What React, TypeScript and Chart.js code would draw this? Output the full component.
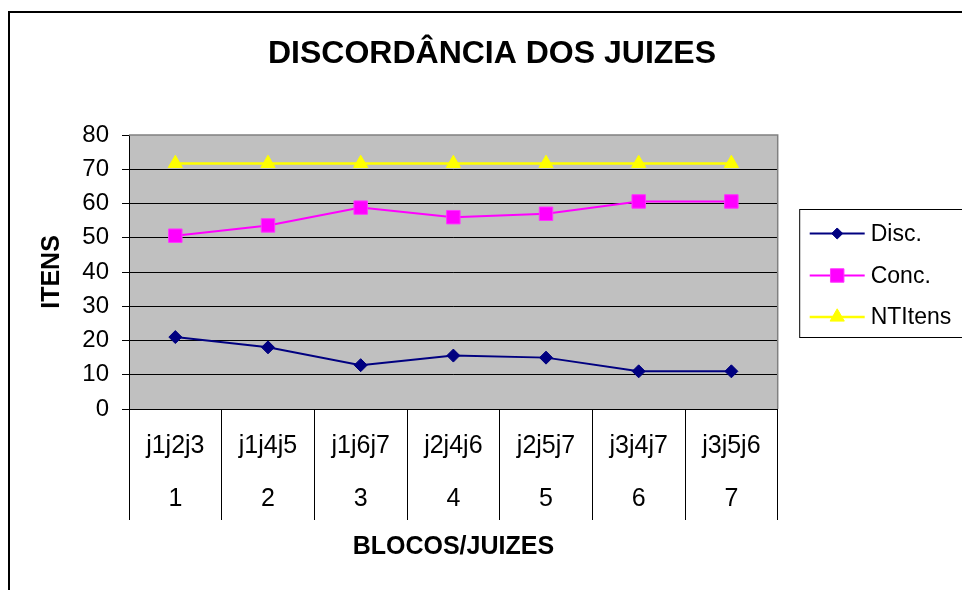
import React, { useEffect, useRef } from 'react';
import { Chart, registerables } from 'chart.js';
import { drawPoint } from 'chart.js/helpers';

Chart.register(...registerables);

const chartTitle = 'DISCORDÂNCIA DOS JUIZES';
const xTitle = 'BLOCOS/JUIZES';
const yTitle = 'ITENS';
const judges = ['j1j2j3', 'j1j4j5', 'j1j6j7', 'j2j4j6', 'j2j5j7', 'j3j4j7', 'j3j5j6'];
const blocks = ['1', '2', '3', '4', '5', '6', '7'];
const disc = [21, 18, 12.8, 15.6, 15, 11, 11];
const conc = [50.6, 53.6, 58.8, 56, 57, 60.6, 60.6];
const ntItens = [71.7, 71.7, 71.7, 71.7, 71.7, 71.7, 71.7];
const seriesNames = ['Disc.', 'Conc.', 'NTItens'];
const yMin = 0;
const yMax = 80;
const yStep = 10;

const FONT = "'Liberation Sans', Arial, sans-serif";

const framePlugin = {
  id: 'frame',
  beforeDraw(chart: any) {
    const { ctx, chartArea } = chart;
    ctx.save();
    ctx.fillStyle = '#ffffff';
    ctx.fillRect(0, 0, chart.width, chart.height);
    ctx.strokeStyle = '#000000';
    ctx.lineWidth = 2;
    ctx.strokeRect(9, 12, chart.width + 50, chart.height + 50);
    ctx.fillStyle = '#C0C0C0';
    ctx.fillRect(chartArea.left, chartArea.top, chartArea.right - chartArea.left, chartArea.bottom - chartArea.top);
    ctx.restore();
  },
  beforeDatasetsDraw(chart: any) {
    const { ctx, chartArea } = chart;
    ctx.save();
    ctx.strokeStyle = '#808080';
    ctx.lineWidth = 1.5;
    ctx.beginPath();
    ctx.moveTo(chartArea.left, chartArea.top);
    ctx.lineTo(chartArea.right, chartArea.top);
    ctx.lineTo(chartArea.right, chartArea.bottom);
    ctx.stroke();
    ctx.restore();
  },
};

const legendPlugin = {
  id: 'excelLegend',
  afterDraw(chart: any) {
    const { ctx, chartArea } = chart;
    const left = chartArea.right + 22;
    const top = 209.5;
    ctx.save();
    ctx.strokeStyle = '#000000';
    ctx.lineWidth = 1;
    ctx.strokeRect(left, top, 300, 128);
    const rows = [233.5, 275.5, 317];
    chart.data.datasets.forEach((ds: any, i: number) => {
      const y = rows[i];
      const x0 = left + 10;
      const x1 = left + 65;
      ctx.strokeStyle = ds.borderColor;
      ctx.lineWidth = ds.borderWidth;
      ctx.beginPath();
      ctx.moveTo(x0, y);
      ctx.lineTo(x1, y);
      ctx.stroke();
      ctx.fillStyle = ds.pointBackgroundColor;
      ctx.strokeStyle = ds.pointBorderColor;
      ctx.lineWidth = 1;
      const r = ds.pointStyle === 'rectRot' ? ds.pointRadius * 0.85 : ds.pointRadius;
      drawPoint(ctx, { pointStyle: ds.pointStyle, radius: r, rotation: 0, borderWidth: 1 }, (x0 + x1) / 2, y);
      ctx.fillStyle = '#000000';
      ctx.font = `23px ${FONT}`;
      ctx.textBaseline = 'middle';
      ctx.textAlign = 'left';
      ctx.fillText(ds.label, x1 + 6, y + 1);
    });
    ctx.restore();
  },
};

export default function App() {
  const ref = useRef<HTMLCanvasElement | null>(null);

  useEffect(() => {
    document.body.style.margin = '0';
    const canvas = ref.current;
    if (!canvas) return;
    const chart = new Chart(canvas, {
      type: 'line',
      data: {
        labels: judges.map((j, i) => [j, blocks[i]]),
        datasets: [
          {
            label: seriesNames[0],
            data: disc,
            borderColor: '#000080',
            backgroundColor: '#000080',
            pointBackgroundColor: '#000080',
            pointBorderColor: '#000080',
            borderWidth: 2,
            pointStyle: 'rectRot',
            pointRadius: 6.5,
            pointBorderWidth: 1,
            tension: 0,
          },
          {
            label: seriesNames[1],
            data: conc,
            borderColor: '#FF00FF',
            backgroundColor: '#FF00FF',
            pointBackgroundColor: '#FF00FF',
            pointBorderColor: '#FF33FF',
            borderWidth: 2,
            pointStyle: 'rect',
            pointRadius: 9.5,
            pointBorderWidth: 1,
            tension: 0,
          },
          {
            label: seriesNames[2],
            data: ntItens,
            borderColor: '#FFFF00',
            backgroundColor: '#FFFF00',
            pointBackgroundColor: '#FFFF00',
            pointBorderColor: '#FFFF00',
            borderWidth: 2.5,
            pointStyle: 'triangle',
            pointRadius: 8.2,
            pointBorderWidth: 1,
            tension: 0,
          },
        ],
      },
      options: {
        responsive: false,
        animation: false,
        events: [],
        layout: { padding: { left: 22, right: 0, top: 0, bottom: 0 } },
        plugins: {
          legend: { display: false },
          tooltip: { enabled: false },
          title: {
            display: true,
            text: chartTitle,
            color: '#000000',
            font: { family: FONT, size: 32, weight: 'bold', lineHeight: 1.2 },
            padding: { top: 34.8, bottom: 61.8 },
          },
        },
        scales: {
          x: {
            type: 'category',
            offset: true,
            grid: {
              offset: true,
              drawOnChartArea: false,
              color: '#000000',
              tickColor: '#000000',
              tickLength: 111,
              lineWidth: 1,
            },
            border: { display: true, color: '#000000', width: 1 },
            ticks: {
              color: '#000000',
              font: { family: FONT, size: 25, lineHeight: 2.12 },
              padding: -100,
              maxRotation: 0,
              autoSkip: false,
            },
            title: {
              display: true,
              text: xTitle,
              color: '#000000',
              font: { family: FONT, size: 25, weight: 'bold', lineHeight: 1.2 },
              padding: { top: 0, bottom: 28 },
            },
            afterFit: (s: any) => {
              s.height = 181;
            },
          },
          y: {
            type: 'linear',
            min: yMin,
            max: yMax,
            ticks: {
              stepSize: yStep,
              color: '#000000',
              font: { family: FONT, size: 24 },
              padding: 13,
            },
            grid: {
              color: (c: any) => (c.tick && c.tick.value === yMax ? 'rgba(0,0,0,0)' : '#000000'),
              tickColor: '#000000',
              tickLength: 7,
              lineWidth: 1,
            },
            border: { display: true, color: '#000000', width: 1 },
            title: {
              display: true,
              text: yTitle,
              color: '#000000',
              font: { family: FONT, size: 25, weight: 'bold', lineHeight: 1.2 },
              padding: { top: 14.7, bottom: 0 },
            },
            afterFit: (s: any) => {
              s.width = 107;
            },
          },
          y2: {
            type: 'linear',
            position: 'right',
            display: true,
            grid: { display: false },
            border: { display: false },
            ticks: { display: false },
            afterFit: (s: any) => {
              s.width = 184.3;
            },
          },
        },
      },
      plugins: [framePlugin, legendPlugin],
    } as any);
    return () => chart.destroy();
  }, []);

  return (
    <div style={{ width: 962, height: 590 }}>
      <canvas ref={ref} width={962} height={590} style={{ display: 'block' }} />
    </div>
  );
}
